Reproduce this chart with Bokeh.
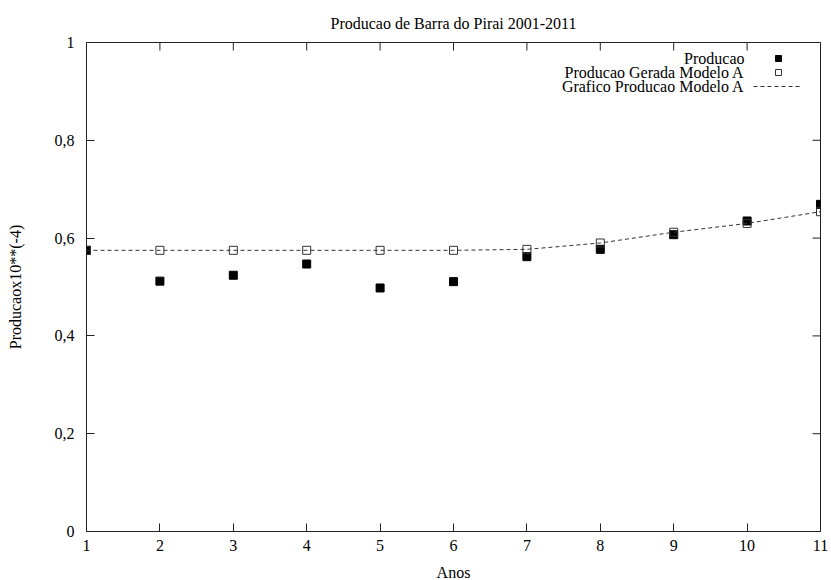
from bokeh.plotting import figure
from bokeh.models import Range1d, FixedTicker, Label, Title, ColumnDataSource
from bokeh.embed import file_html
from bokeh.resources import INLINE

# Observed production per year index (x10^-4)
anos = [1, 2, 3, 4, 5, 6, 7, 8, 9, 10, 11]
producao = [0.575, 0.512, 0.524, 0.547, 0.498, 0.511, 0.562, 0.577, 0.607, 0.635, 0.669]
# Values generated by model A
modelo_a = [0.575, 0.575, 0.575, 0.575, 0.575, 0.575, 0.577, 0.590, 0.612, 0.630, 0.654]

x_ticks = [1, 2, 3, 4, 5, 6, 7, 8, 9, 10, 11]
y_ticks = [0, 0.2, 0.4, 0.6, 0.8, 1.0]
y_tick_labels = ["0", "0,2", "0,4", "0,6", "0,8", "1"]

title_text = "Producao de Barra do Pirai 2001-2011"
legend_labels = ["Producao", "Producao Gerada Modelo A", "Grafico Producao Modelo A"]

FONT = "Liberation Serif"
FS = "16px"
INK = "#222222"
X0, X1 = 1, 11
Y0, Y1 = 0, 1
FW, FH = 734, 489

p = figure(width=831, height=580, output_backend="svg", toolbar_location=None,
           x_range=Range1d(X0, X1), y_range=Range1d(Y0, Y1),
           min_border_left=86, min_border_right=11, min_border_top=42,
           min_border_bottom=49)
p.frame_width = FW
p.frame_height = FH

p.title = Title(text=title_text, align="center", vertical_align="top",
                text_font=FONT, text_font_size=FS, text_font_style="normal",
                text_color="black", standoff=18)

p.xgrid.visible = False
p.ygrid.visible = False
p.outline_line_color = INK
p.outline_line_width = 1
p.background_fill_color = "white"
p.border_fill_color = "white"

def style_axis(ax):
    ax.axis_line_color = INK
    ax.major_tick_line_color = INK
    ax.major_tick_in = 8
    ax.major_tick_out = 0
    ax.minor_tick_line_color = None
    ax.major_label_text_font = FONT
    ax.major_label_text_font_size = FS
    ax.major_label_text_color = "black"
    ax.axis_label_text_font = FONT
    ax.axis_label_text_font_size = FS
    ax.axis_label_text_font_style = "normal"
    ax.axis_label_text_color = "black"

xa = p.xaxis[0]
xa.ticker = FixedTicker(ticks=x_ticks)
xa.axis_label = "Anos"
style_axis(xa)
xa.major_label_standoff = 8
xa.axis_label_standoff = 10

ya = p.yaxis[0]
ya.ticker = FixedTicker(ticks=y_ticks)
ya.major_label_overrides = {t: s for t, s in zip(y_ticks, y_tick_labels)}
ya.axis_label = "Producaox10**(-4)"
style_axis(ya)
ya.major_label_standoff = 12
ya.axis_label_standoff = 28

dx = (X1 - X0) / FW
dy = (Y1 - Y0) / FH

# Mirrored inward ticks on the top and right edges
p.segment(x0=x_ticks, y0=[Y1] * len(x_ticks), x1=x_ticks,
          y1=[Y1 - 8 * dy] * len(x_ticks), line_color=INK, line_width=1)
p.segment(x0=[X1] * len(y_ticks), y0=y_ticks, x1=[X1 - 8 * dx] * len(y_ticks),
          y1=y_ticks, line_color=INK, line_width=1)

src = ColumnDataSource(dict(anos=anos, producao=producao, modelo_a=modelo_a))

p.scatter("anos", "producao", source=src, marker="square", size=8,
          fill_color="black", line_color="black")
p.scatter("anos", "modelo_a", source=src, marker="square", size=8,
          fill_color=None, line_color="#333333", line_width=1)
p.line("anos", "modelo_a", source=src, line_color="#333333", line_width=1,
       line_dash="4 3")

# Key in the upper right: text right-aligned, sample to its right
text_right = X1 - 76 * dx
sym_x = X1 - 42 * dx
rows = [Y1 - 16 * dy, Y1 - 30 * dy, Y1 - 44 * dy]
for lbl, yy in zip(legend_labels, rows):
    p.add_layout(Label(x=text_right, y=yy, text=lbl, text_align="right",
                       text_baseline="middle", text_font=FONT,
                       text_font_size=FS, text_color="black"))
p.scatter([sym_x], [rows[0]], marker="square", size=6,
          fill_color="black", line_color="black")
p.scatter([sym_x], [rows[1]], marker="square", size=6,
          fill_color=None, line_color="#333333")
p.line([X1 - 67 * dx, X1 - 20 * dx], [rows[2], rows[2]], line_color="#333333",
       line_width=1, line_dash="4 3")

open("out.html", "w").write(file_html(p, INLINE))
